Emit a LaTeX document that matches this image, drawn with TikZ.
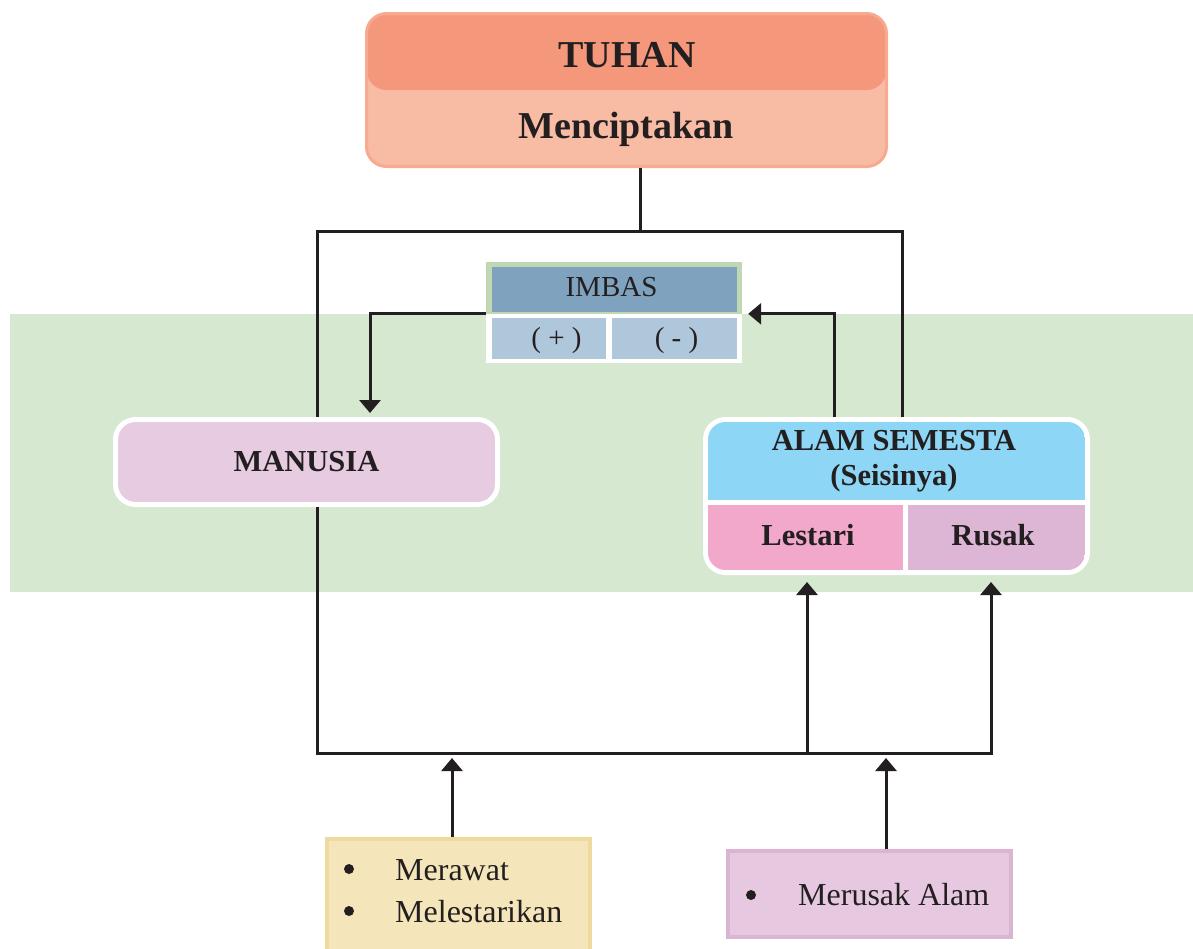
\documentclass[tikz,border=0pt]{standalone}
\usepackage{fontspec}
\setmainfont{Liberation Serif}
\usetikzlibrary{arrows.meta,calc}

\definecolor{ink}{HTML}{231F20}
\definecolor{band}{HTML}{D6E8D0}
\definecolor{tuhanhigh}{HTML}{F4977A}
\definecolor{tuhanlow}{HTML}{F8BBA3}
\definecolor{tuhanrim}{HTML}{F7AA8F}
\definecolor{imbasrim}{HTML}{BFD8B3}
\definecolor{imbashead}{HTML}{7FA2BF}
\definecolor{imbascell}{HTML}{AFC7DA}
\definecolor{manusiafill}{HTML}{E6CBE1}
\definecolor{alamblue}{HTML}{8ED6F5}
\definecolor{lestarifill}{HTML}{F2A8CB}
\definecolor{rusakfill}{HTML}{DDB6D5}
\definecolor{rawatfill}{HTML}{F4E6BA}
\definecolor{rawatrim}{HTML}{EEDA9F}
\definecolor{merusakfill}{HTML}{E6C9E0}
\definecolor{merusakrim}{HTML}{D9B5D2}

\begin{document}
\begin{tikzpicture}[x=1pt,y=-1pt,
  link/.style={draw=ink,line width=3pt},
  tip/.style={-{Triangle[width=21pt,length=13pt]}},
  box/.style={rectangle,inner sep=0pt},
  dot/.style={circle,fill=ink,inner sep=0pt,minimum size=10pt},
  headtext/.style={font=\fontsize{38}{40}\selectfont\bfseries,text=ink,inner sep=0pt,anchor=base},
  boldtext/.style={font=\fontsize{30.5}{34}\selectfont\bfseries,text=ink,inner sep=0pt},
  imbastext/.style={font=\fontsize{29}{32}\selectfont,text=ink,inner sep=0pt,anchor=base},
  signtext/.style={font=\fontsize{29}{32}\selectfont,text=ink,inner sep=0pt,anchor=base},
  itemtext/.style={font=\fontsize{32}{36}\selectfont,text=ink,inner sep=0pt},
]

\useasboundingbox (0,0) rectangle (1193,948);
\fill[white] (0,0) rectangle (1193,948);
\fill[band] (10,314) rectangle (1193,592);

% --- TUHAN ---
\node[box,rounded corners=20pt,fill=tuhanlow,draw=tuhanrim,line width=3pt,
  minimum width=520pt,minimum height=153pt,
  path picture={\fill[tuhanhigh] (path picture bounding box.north west) rectangle (path picture bounding box.east);}]
  (tuhan) at (626.5,90) {};
\node[headtext] (tuhanT) at (627,67) {TUHAN};
\node[headtext] (cipta) at (626,138) {Menciptakan};

% --- IMBAS ---
\node[box,fill=imbasrim,minimum width=256pt,minimum height=52pt] (imbas) at (614,288) {};
\node[box,fill=imbashead,minimum width=245.6pt,minimum height=45.3pt] (imbashd) at (614.5,289.35) {};
\node[box,fill=white,minimum width=256pt,minimum height=49pt] (imbaslow) at (614,338.5) {};
\node[box,fill=imbascell,minimum width=114pt,minimum height=41pt] (plus) at (549,338.5) {};
\node[box,fill=imbascell,minimum width=125pt,minimum height=41pt] (minus) at (674.5,338.5) {};
\node[imbastext] (imbasT) at (611.5,296.7) {IMBAS};
\node[signtext] (plusT) at (556.5,347) {( + )};
\node[signtext] (minusT) at (676.5,347) {( - )};

% --- MANUSIA ---
\node[box,rounded corners=20pt,fill=manusiafill,draw=white,line width=5pt,
  minimum width=382pt,minimum height=85pt,boldtext] (manusia) at (306.5,462) {MANUSIA};

% --- ALAM SEMESTA ---
\node[box,rounded corners=20pt,fill=white,draw=white,line width=5pt,
  minimum width=382pt,minimum height=153pt] (alam) at (896.5,496) {};
\begin{scope}
  \clip[rounded corners=17.5pt] (708,422) rectangle (1085,570);
  \node[box,fill=alamblue,minimum width=377pt,minimum height=77.5pt] (alamtop) at (896.5,460.75) {};
  \node[box,fill=lestarifill,minimum width=195pt,minimum height=65pt] (lestari) at (805.5,537.5) {};
  \node[box,fill=rusakfill,minimum width=177pt,minimum height=65pt] (rusak) at (996.5,537.5) {};
\end{scope}
\node[boldtext,anchor=base] (alamT) at (894,450) {ALAM SEMESTA};
\node[boldtext,anchor=base] (alamS) at (894,485) {(Seisinya)};
\node[boldtext,anchor=base] (lestariT) at (808,545) {Lestari};
\node[boldtext,anchor=base] (rusakT) at (993,545) {Rusak};

% --- actions ---
\node[box,fill=rawatfill,draw=rawatrim,line width=4pt,minimum width=263pt,minimum height=115pt] (rawat) at (458.5,896.5) {};
\node[dot] (dot1) at (349,869) {};
\node[dot] (dot2) at (349,911) {};
\node[itemtext,anchor=base west] (rawatA) at (395,880) {Merawat};
\node[itemtext,anchor=base west] (rawatB) at (395,922) {Melestarikan};

\node[box,fill=merusakfill,draw=merusakrim,line width=4pt,minimum width=283pt,minimum height=86pt] (merusak) at (869.5,894) {};
\node[dot] (dot3) at (751,895) {};
\node[itemtext,anchor=base west] (merusakA) at (798,905) {Merusak Alam};

% --- connectors ---
\coordinate (topJ) at (640,231);
\coordinate (topL) at (317,231);
\coordinate (topR) at (902,231);
\coordinate (arrL) at (370,413);
\coordinate (arrR) at (834,315);
\coordinate (botL) at (317,753);
\coordinate (botM) at (807,753);
\coordinate (botR) at (991,753);
\coordinate (upL) at (452,758);
\coordinate (upR) at (886,758);

\draw[link] (tuhan.south -| topJ) -- (topJ);
\draw[link] (manusia.north -| topL) |- (topR) -- (alam.north -| topR);
\draw[link,tip] (imbaslow.north west) -| (arrL);
\draw[link,tip] (alam.north -| arrR) |- ($(imbaslow.north east)+(6,0)$);
\draw[link,tip] (manusia.south -| botL) |- (botR) -- ($(alam.south -| botR)+(0,7)$);
\draw[link,tip] (botM) -- ($(alam.south -| botM)+(0,7)$);
\draw[link,tip] (rawat.north -| upL) -- (upL);
\draw[link,tip] (merusak.north -| upR) -- (upR);
\end{tikzpicture}
\end{document}
